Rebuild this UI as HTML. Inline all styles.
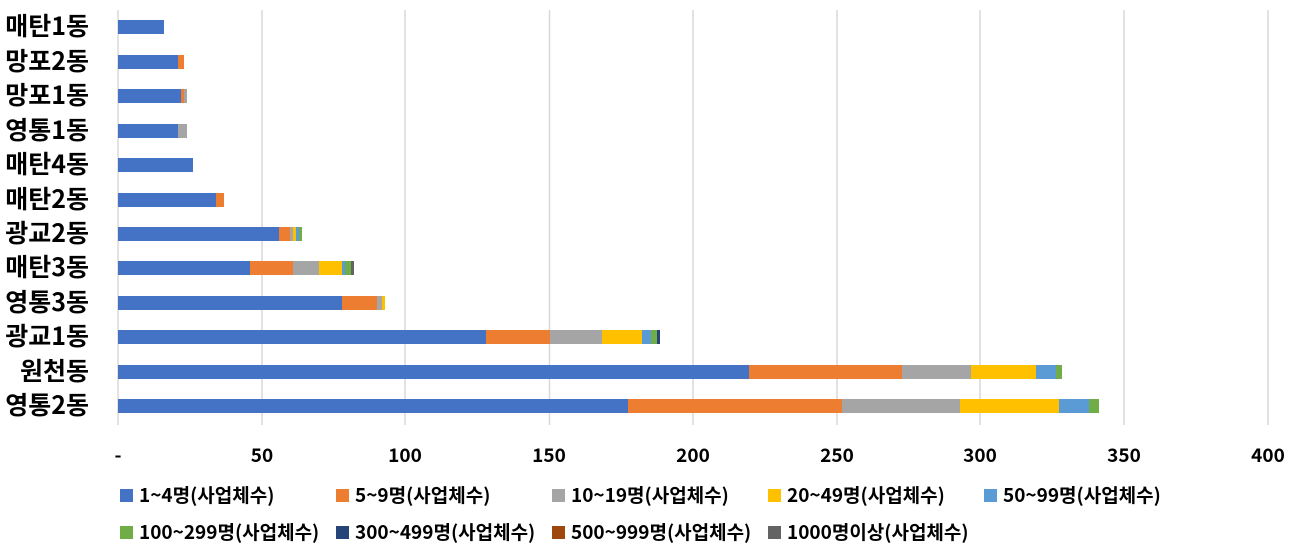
<!DOCTYPE html>
<html><head><meta charset="utf-8"><style>
body{margin:0;background:#fff;width:1303px;height:553px;overflow:hidden}
</style></head><body>
<svg width="1303" height="553" xmlns="http://www.w3.org/2000/svg" font-family="Noto Sans CJK KR, sans-serif">
<g stroke="#d9d9d9" stroke-width="1.5">
<line x1="118" y1="10" x2="118" y2="425"/><line x1="262" y1="10" x2="262" y2="425"/><line x1="405" y1="10" x2="405" y2="425"/><line x1="549.5" y1="10" x2="549.5" y2="425"/><line x1="693" y1="10" x2="693" y2="425"/><line x1="837" y1="10" x2="837" y2="425"/><line x1="980" y1="10" x2="980" y2="425"/><line x1="1124" y1="10" x2="1124" y2="425"/><line x1="1268" y1="10" x2="1268" y2="425"/>
</g>
<g font-size="25" font-weight="bold" text-anchor="end" fill="#000">
<text x="89" y="35">매탄1동</text><text x="89" y="70">망포2동</text><text x="89" y="104">망포1동</text><text x="89" y="139">영통1동</text><text x="89" y="173">매탄4동</text><text x="89" y="208">매탄2동</text><text x="89" y="242">광교2동</text><text x="89" y="276">매탄3동</text><text x="89" y="311">영통3동</text><text x="89" y="345">광교1동</text><text x="89" y="380">원천동</text><text x="89" y="414">영통2동</text>
</g>
<g font-size="19" font-weight="bold" text-anchor="middle" fill="#000">
<text x="118" y="462">-</text><text x="262" y="462">50</text><text x="405" y="462">100</text><text x="549" y="462">150</text><text x="693" y="462">200</text><text x="837" y="462">250</text><text x="980" y="462">300</text><text x="1124" y="462">350</text><text x="1268" y="462">400</text>
</g>
<g font-size="19" font-weight="bold" fill="#000">
<rect x="120" y="489" width="13" height="13" fill="#4472c4"/><text x="139" y="502">1~4명(사업체수)</text>
<rect x="336" y="489" width="13" height="13" fill="#ed7d31"/><text x="355" y="502">5~9명(사업체수)</text>
<rect x="552" y="489" width="13" height="13" fill="#a5a5a5"/><text x="571" y="502">10~19명(사업체수)</text>
<rect x="768" y="489" width="13" height="13" fill="#ffc000"/><text x="787" y="502">20~49명(사업체수)</text>
<rect x="984" y="489" width="13" height="13" fill="#5b9bd5"/><text x="1003" y="502">50~99명(사업체수)</text>
<rect x="120" y="526" width="13" height="13" fill="#70ad47"/><text x="139" y="539">100~299명(사업체수)</text>
<rect x="336" y="526" width="13" height="13" fill="#264478"/><text x="355" y="539">300~499명(사업체수)</text>
<rect x="552" y="526" width="13" height="13" fill="#9e480e"/><text x="571" y="539">500~999명(사업체수)</text>
<rect x="768" y="526" width="13" height="13" fill="#636363"/><text x="787" y="539">1000명이상(사업체수)</text>
</g>
<g>
<rect x="118" y="20" width="46" height="14" fill="#4472c4"/>
<rect x="118" y="55" width="60" height="14" fill="#4472c4"/><rect x="178" y="55" width="6" height="14" fill="#ed7d31"/>
<rect x="118" y="89" width="63" height="14" fill="#4472c4"/><rect x="181" y="89" width="3" height="14" fill="#ed7d31"/><rect x="184" y="89" width="3" height="14" fill="#a5a5a5"/>
<rect x="118" y="124" width="60" height="14" fill="#4472c4"/><rect x="178" y="124" width="9" height="14" fill="#a5a5a5"/>
<rect x="118" y="158" width="75" height="14" fill="#4472c4"/>
<rect x="118" y="193" width="98" height="14" fill="#4472c4"/><rect x="216" y="193" width="8" height="14" fill="#ed7d31"/>
<rect x="118" y="227" width="161" height="14" fill="#4472c4"/><rect x="279" y="227" width="11" height="14" fill="#ed7d31"/><rect x="290" y="227" width="3" height="14" fill="#a5a5a5"/><rect x="293" y="227" width="3" height="14" fill="#ffc000"/><rect x="296" y="227" width="3" height="14" fill="#5b9bd5"/><rect x="299" y="227" width="3" height="14" fill="#70ad47"/>
<rect x="118" y="261" width="132" height="14" fill="#4472c4"/><rect x="250" y="261" width="43" height="14" fill="#ed7d31"/><rect x="293" y="261" width="26" height="14" fill="#a5a5a5"/><rect x="319" y="261" width="23" height="14" fill="#ffc000"/><rect x="342" y="261" width="3" height="14" fill="#5b9bd5"/><rect x="345" y="261" width="6" height="14" fill="#70ad47"/><rect x="351" y="261" width="3" height="14" fill="#636363"/>
<rect x="118" y="296" width="224" height="14" fill="#4472c4"/><rect x="342" y="296" width="35" height="14" fill="#ed7d31"/><rect x="377" y="296" width="5" height="14" fill="#a5a5a5"/><rect x="382" y="296" width="3" height="14" fill="#ffc000"/>
<rect x="118" y="330" width="368" height="14" fill="#4472c4"/><rect x="486" y="330" width="64" height="14" fill="#ed7d31"/><rect x="550" y="330" width="52" height="14" fill="#a5a5a5"/><rect x="602" y="330" width="40" height="14" fill="#ffc000"/><rect x="642" y="330" width="9" height="14" fill="#5b9bd5"/><rect x="651" y="330" width="6" height="14" fill="#70ad47"/><rect x="657" y="330" width="3" height="14" fill="#264478"/>
<rect x="118" y="365" width="631" height="14" fill="#4472c4"/><rect x="749" y="365" width="153" height="14" fill="#ed7d31"/><rect x="902" y="365" width="69" height="14" fill="#a5a5a5"/><rect x="971" y="365" width="65" height="14" fill="#ffc000"/><rect x="1036" y="365" width="20" height="14" fill="#5b9bd5"/><rect x="1056" y="365" width="6" height="14" fill="#70ad47"/>
<rect x="118" y="399" width="510" height="14" fill="#4472c4"/><rect x="628" y="399" width="214" height="14" fill="#ed7d31"/><rect x="842" y="399" width="118" height="14" fill="#a5a5a5"/><rect x="960" y="399" width="99" height="14" fill="#ffc000"/><rect x="1059" y="399" width="30" height="14" fill="#5b9bd5"/><rect x="1089" y="399" width="10" height="14" fill="#70ad47"/>
</g>
</svg>
</body></html>
